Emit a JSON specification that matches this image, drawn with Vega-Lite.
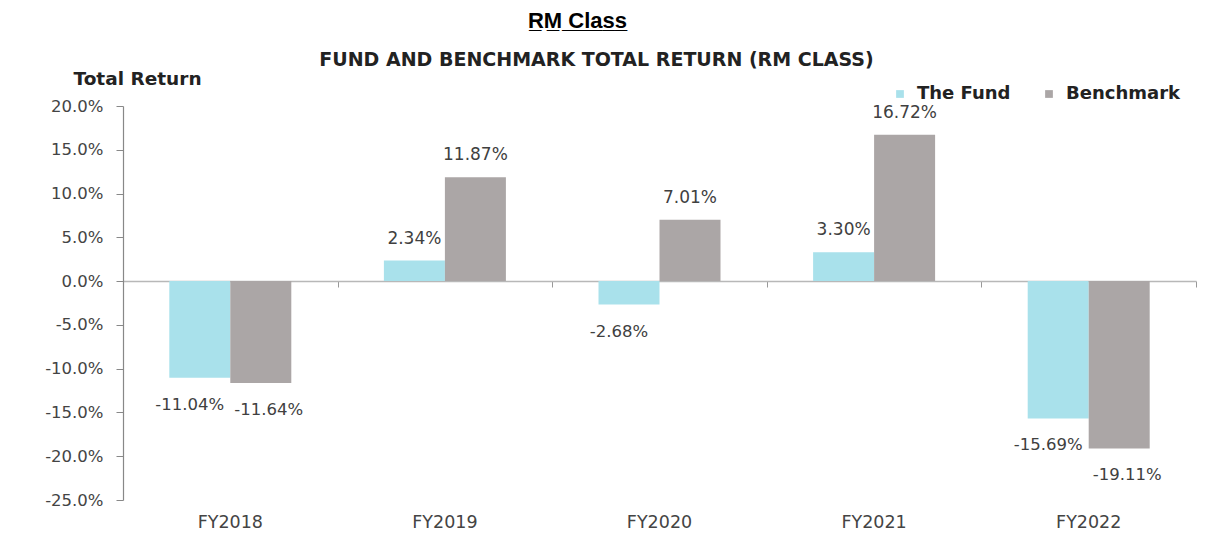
{
  "$schema": "https://vega.github.io/schema/vega-lite/v6.json",
  "width": 1073,
  "height": 394,
  "autosize": {"type": "none"},
  "padding": {"left": 123, "top": 106, "right": 9, "bottom": 42},
  "background": "white",
  "title": {"text": "R\u0332M\u0332 \u0332C\u0332l\u0332a\u0332s\u0332s\u0332", "font": "Liberation Sans", "fontSize": 22, "fontWeight": "bold", "color": "#000000", "anchor": "middle", "frame": "group", "dx": -82, "baseline": "alphabetic", "offset": 0},
  "data": {"values": [
    {"year": "FY2018", "series": "The Fund", "value": -0.1104},
    {"year": "FY2018", "series": "Benchmark", "value": -0.1164},
    {"year": "FY2019", "series": "The Fund", "value": 0.0234},
    {"year": "FY2019", "series": "Benchmark", "value": 0.1187},
    {"year": "FY2020", "series": "The Fund", "value": -0.0268},
    {"year": "FY2020", "series": "Benchmark", "value": 0.0701},
    {"year": "FY2021", "series": "The Fund", "value": 0.0330},
    {"year": "FY2021", "series": "Benchmark", "value": 0.1672},
    {"year": "FY2022", "series": "The Fund", "value": -0.1569},
    {"year": "FY2022", "series": "Benchmark", "value": -0.1911}
  ]},
  "encoding": {
    "xOffset": {"field": "series", "type": "nominal", "sort": ["The Fund", "Benchmark"], "scale": {"paddingInner": 0, "paddingOuter": 0.759}},
    "y": {"field": "value", "type": "quantitative", "scale": {"domain": [-0.25, 0.2], "nice": false, "zero": false},
      "axis": {"values": [-0.25, -0.2, -0.15, -0.1, -0.05, 0, 0.05, 0.1, 0.15, 0.2], "format": ".1%", "grid": false,
        "domainColor": "#888888", "domainWidth": 1.2, "tickColor": "#888888", "tickSize": 7, "labelPadding": 13,
        "labelFont": "DejaVu Sans", "labelFontSize": 16.5, "labelColor": "#444444",
        "title": "Total Return", "titleAngle": 0, "titleAlign": "left", "titleBaseline": "alphabetic", "titleX": -50, "titleY": -22,
        "titleFont": "DejaVu Sans", "titleFontSize": 18.5, "titleFontWeight": "bold", "titleColor": "#222222"}}
  },
  "layer": [
    {
      "mark": {"type": "bar"},
      "encoding": {
        "x": {"field": "year", "type": "nominal", "scale": {"paddingInner": 0, "paddingOuter": 0},
          "axis": {"orient": "bottom", "title": null, "domain": false, "ticks": false, "labelPadding": 13, "labelAngle": 0,
            "labelFont": "DejaVu Sans", "labelFontSize": 17.5, "labelColor": "#444444"}},
        "color": {"field": "series", "type": "nominal", "sort": ["The Fund", "Benchmark"],
          "scale": {"domain": ["The Fund", "Benchmark"], "range": ["#a9e1eb", "#aba6a6"]},
          "legend": {"orient": "none", "legendX": 768, "legendY": -21, "direction": "horizontal", "title": null,
            "symbolType": "square", "symbolSize": 60, "symbolStrokeWidth": 0, "labelFont": "DejaVu Sans", "labelFontSize": 18,
            "labelFontWeight": "bold", "labelColor": "#222222", "columnPadding": 29, "labelOffset": 8, "padding": 0}}
      }
    },
    {
      "transform": [{"filter": "datum.value >= 0"}],
      "mark": {"type": "text", "dy": -22, "font": "DejaVu Sans", "fontSize": 17, "color": "#404040", "baseline": "middle"},
      "encoding": {
        "x": {"field": "year", "type": "nominal",
          "axis": {"orient": "bottom", "offset": -219, "labels": false, "domain": true, "domainColor": "#b8b8b8", "domainWidth": 1.5,
            "ticks": true, "tickBand": "extent", "tickSize": 6, "tickColor": "#999999",
            "title": "FUND AND BENCHMARK TOTAL RETURN (RM CLASS)", "titleX": 473, "titleY": -216, "titleAlign": "center", "titleBaseline": "alphabetic",
            "titleFont": "DejaVu Sans", "titleFontSize": 19, "titleFontWeight": "bold", "titleColor": "#222222"}},
        "text": {"field": "value", "type": "quantitative", "format": ".2%"}
      }
    },
    {
      "transform": [{"filter": "datum.value < 0 && datum.series == 'The Fund'"}],
      "mark": {"type": "text", "dy": 27, "dx": -10, "font": "DejaVu Sans", "fontSize": 16.5, "color": "#404040", "baseline": "middle"},
      "encoding": {
        "x": {"field": "year", "type": "nominal", "axis": null},
        "text": {"field": "value", "type": "quantitative", "format": ".2%"}
      }
    },
    {
      "transform": [{"filter": "datum.value < 0 && datum.series == 'Benchmark'"}],
      "mark": {"type": "text", "dy": 27, "dx": 8, "font": "DejaVu Sans", "fontSize": 16.5, "color": "#404040", "baseline": "middle"},
      "encoding": {
        "x": {"field": "year", "type": "nominal", "axis": null},
        "text": {"field": "value", "type": "quantitative", "format": ".2%"}
      }
    }
  ],
  "resolve": {"axis": {"x": "independent"}},
  "config": {
    "view": {"stroke": null},
    "locale": {"number": {"decimal": ".", "thousands": ",", "grouping": [3], "currency": ["$", ""], "minus": "-"}}
  }
}
